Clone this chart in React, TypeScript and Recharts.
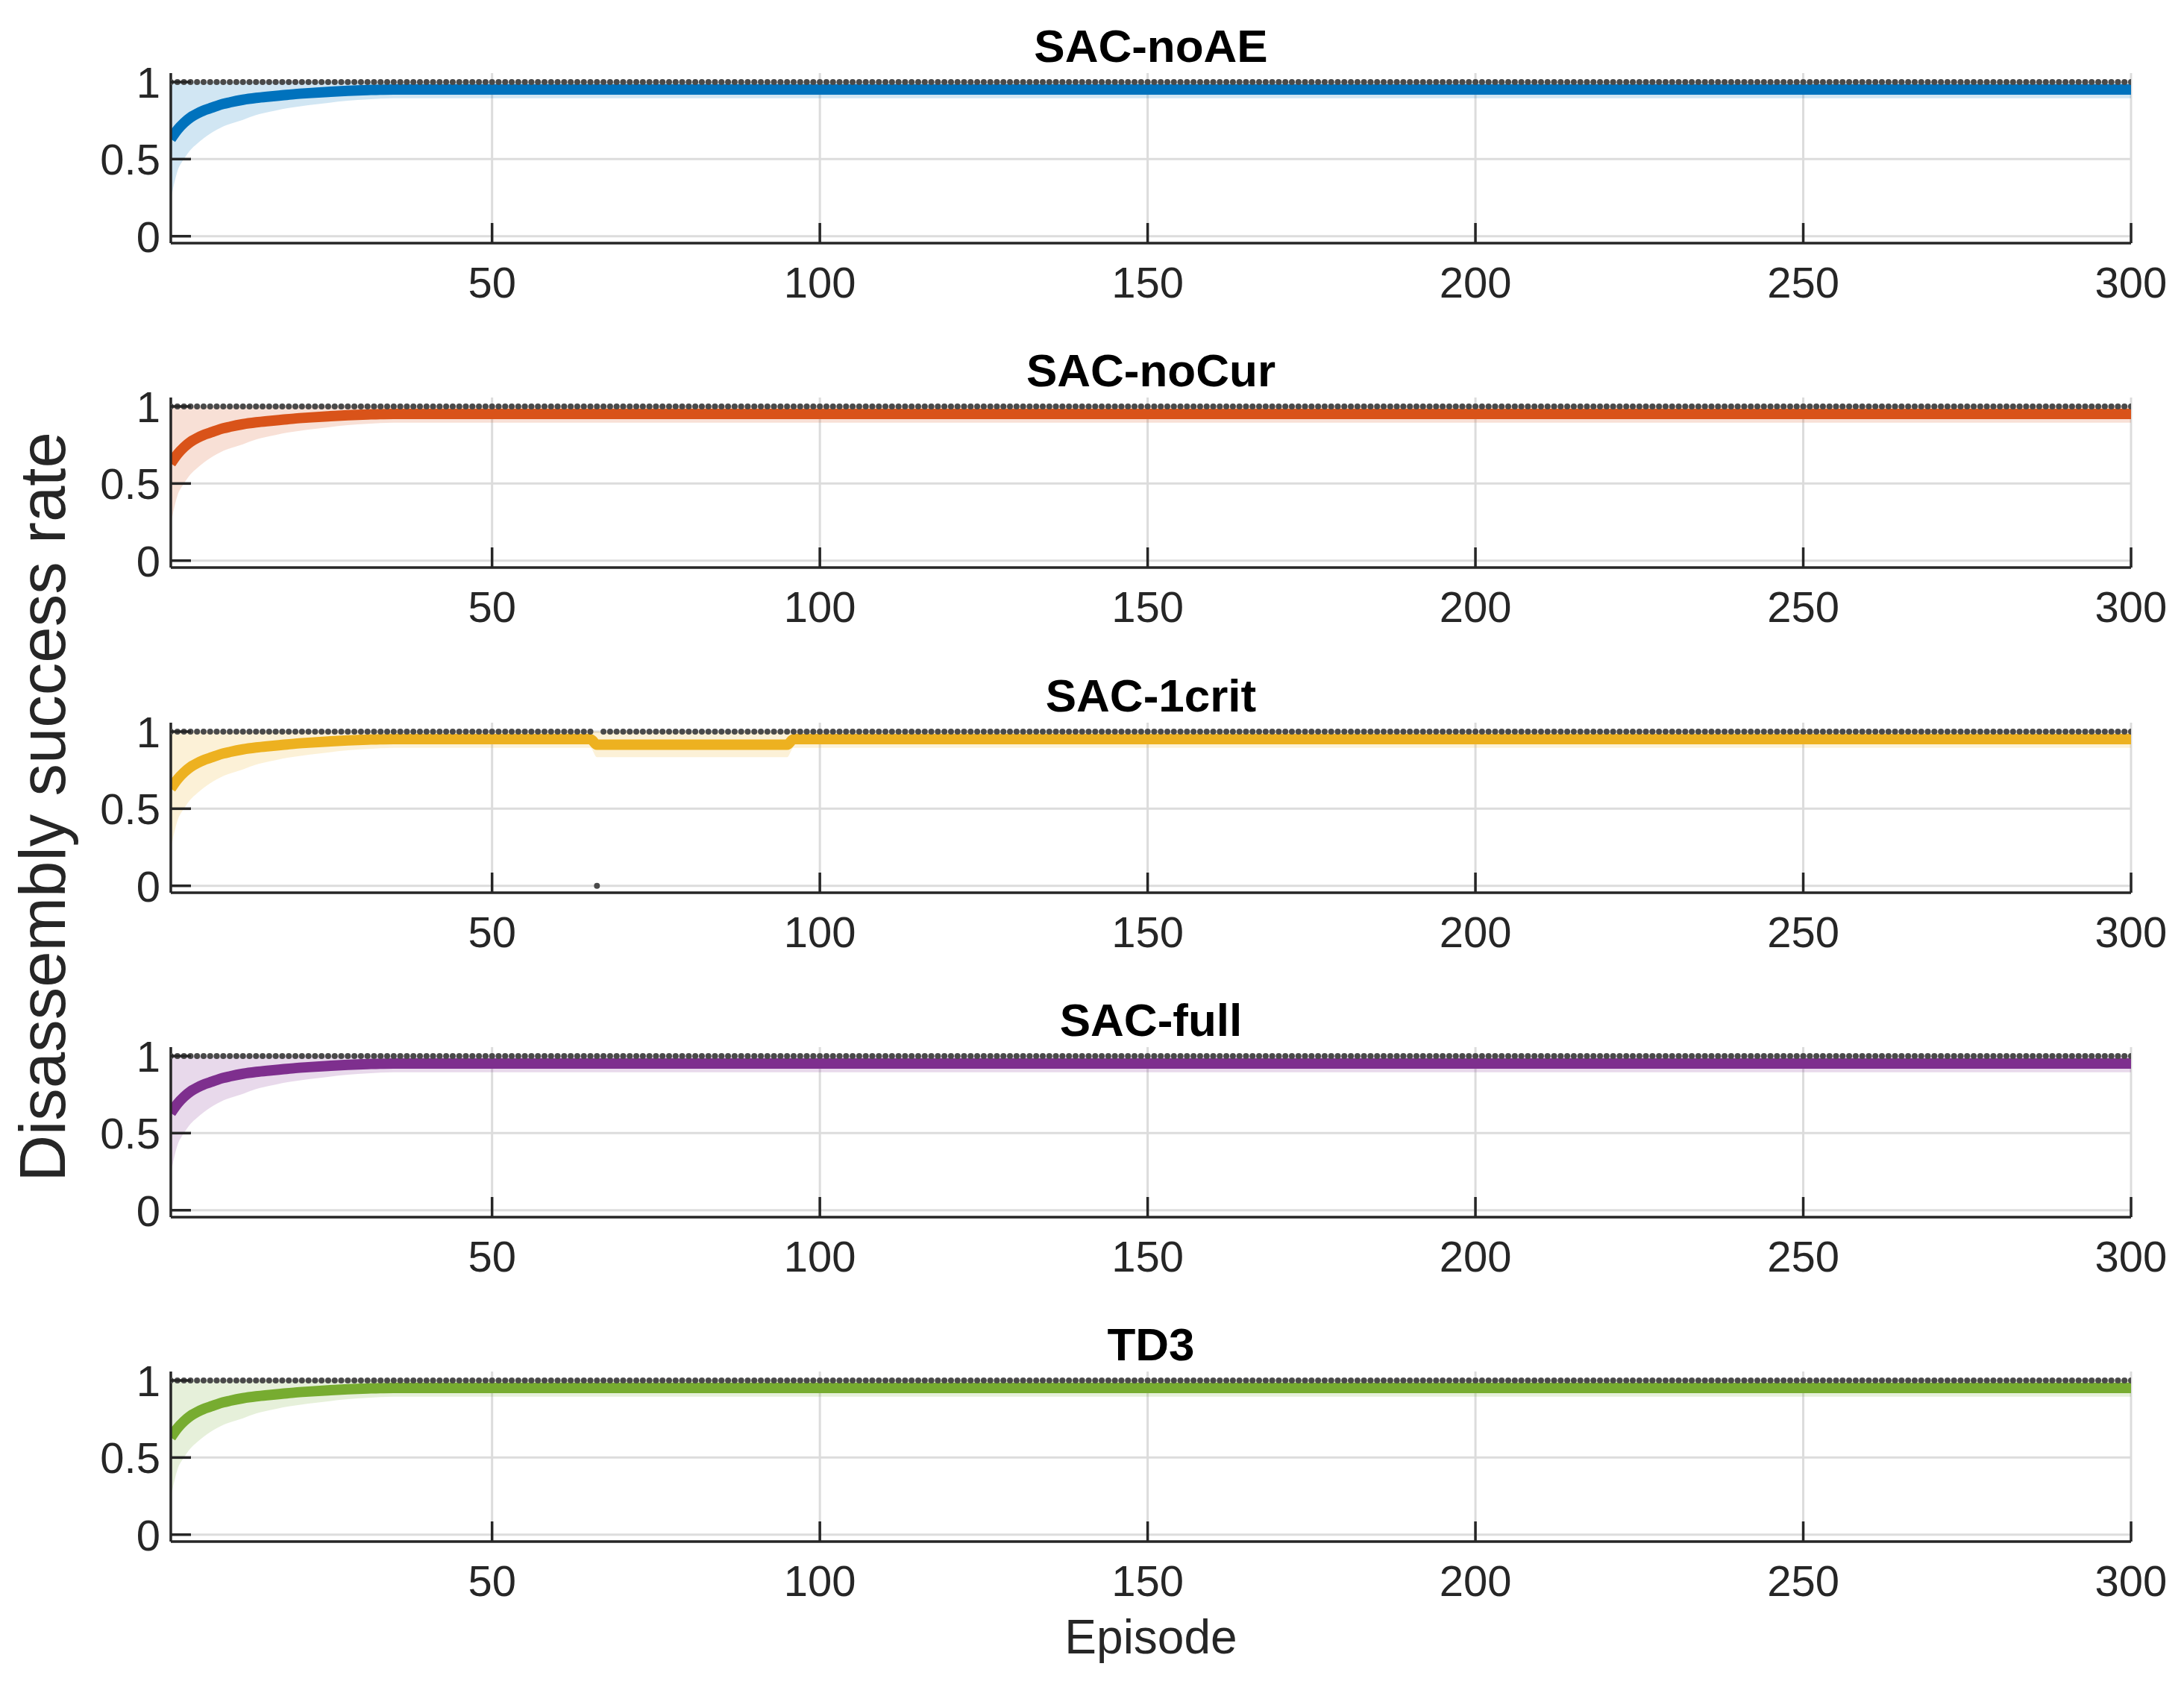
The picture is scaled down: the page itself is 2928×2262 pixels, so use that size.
import React from "react";
import {
  ComposedChart,
  Line,
  Area,
  Scatter,
  XAxis,
  YAxis,
  CartesianGrid,
} from "recharts";

// ---- data ----
const TITLES = ["SAC-noAE", "SAC-noCur", "SAC-1crit", "SAC-full", "TD3"];
const COLORS = ["#0072BD", "#D95319", "#EDB120", "#7E2F8E", "#77AC30"];

const EPISODE_TICKS = [50, 100, 150, 200, 250, 300];
const RATE_TICKS = [0, 0.5, 1];
const LAST_EPISODE = 300;

// learning curve (mean and lower edge of the shaded band) for the first episodes
const RISE_EPISODES = [1, 2, 3, 4, 5, 6, 7, 8, 9, 10, 12, 14, 16, 18, 20, 22, 25, 28, 31, 35];
const RISE_MEAN = [0.63, 0.69, 0.735, 0.77, 0.795, 0.815, 0.83, 0.845, 0.858, 0.868, 0.885, 0.897, 0.906, 0.914, 0.922, 0.928, 0.936, 0.943, 0.948, 0.952];
const RISE_LOW = [0.24, 0.42, 0.5, 0.56, 0.6, 0.635, 0.665, 0.69, 0.712, 0.728, 0.755, 0.786, 0.806, 0.825, 0.838, 0.85, 0.865, 0.879, 0.888, 0.895];
const BAND_HIGH = 1.0;

const PLATEAU_MEAN = 0.952;
const PLATEAU_LOW = 0.895;

// SAC-1crit: one failed episode and a dip of the running mean
const FAILED_EPISODES = [[], [], [66], [], []];
const DIPS = [null, null, { start: 66, end: 95, mean: 0.915, low: 0.834 }, null, null];

// ---- layout (px, full size) ----
const W = 2928;
const H = 2262;
const PANEL_STEP = 435.25;
const PLOT_TOP = 98;
const PLOT_H = 228;
const PLOT_LEFT = 229;
const PLOT_RIGHT = 2857;
const AXIS_Y = PLOT_TOP + PLOT_H;
const TICK_LEN = 27;
const INK = "#262626";
const FONT = '"Liberation Sans", Arial, Helvetica, sans-serif';

function buildRows(dip) {
  const rows = RISE_EPISODES.map((ep, i) => ({
    ep,
    mean: RISE_MEAN[i],
    band: [RISE_LOW[i], BAND_HIGH],
  }));
  if (dip) {
    rows.push({ ep: dip.start - 1, mean: PLATEAU_MEAN, band: [PLATEAU_LOW, BAND_HIGH] });
    rows.push({ ep: dip.start, mean: dip.mean, band: [dip.low, BAND_HIGH] });
    rows.push({ ep: dip.end, mean: dip.mean, band: [dip.low, BAND_HIGH] });
    rows.push({ ep: dip.end + 1, mean: PLATEAU_MEAN, band: [PLATEAU_LOW, BAND_HIGH] });
  }
  rows.push({ ep: LAST_EPISODE, mean: PLATEAU_MEAN, band: [PLATEAU_LOW, BAND_HIGH] });
  return rows;
}

function buildDots(failed) {
  return Array.from({ length: LAST_EPISODE }, (_, i) => {
    const ep = i + 1;
    return { ep, hit: failed.includes(ep) ? 0 : 1 };
  });
}

const XTick = (props) => {
  const { x, payload } = props;
  return (
    <g>
      <line x1={x} x2={x} y1={AXIS_Y} y2={AXIS_Y - TICK_LEN} stroke={INK} strokeWidth={3.5} />
      <text x={x} y={AXIS_Y + 73} textAnchor="middle" fontSize={58} fill={INK} fontFamily={FONT}>
        {payload.value}
      </text>
    </g>
  );
};

const YTick = (props) => {
  const { y, payload } = props;
  return (
    <g>
      <line x1={PLOT_LEFT} x2={PLOT_LEFT + TICK_LEN} y1={y} y2={y} stroke={INK} strokeWidth={3.5} />
      <text x={215} y={y} dy="0.36em" textAnchor="end" fontSize={58} fill={INK} fontFamily={FONT}>
        {payload.value}
      </text>
    </g>
  );
};

const Dot = (props) => <circle cx={props.cx} cy={props.cy} r={4} fill="#4a4a4a" />;

function Panel({ index }) {
  const last = index === TITLES.length - 1;
  const height = last ? H - Math.round(index * PANEL_STEP) : Math.round(PANEL_STEP);
  const color = COLORS[index];
  const rows = buildRows(DIPS[index]);
  const dots = buildDots(FAILED_EPISODES[index]);
  return (
    <div style={{ position: "absolute", left: 0, top: index * PANEL_STEP }}>
      <ComposedChart
        width={W}
        height={height}
        data={rows}
        margin={{ top: PLOT_TOP, right: W - PLOT_RIGHT, bottom: 0, left: 0 }}
      >
        <CartesianGrid
          stroke="#dcdcdc"
          strokeWidth={3}
          horizontalValues={RATE_TICKS}
          verticalValues={EPISODE_TICKS}
        />
        <XAxis
          dataKey="ep"
          type="number"
          domain={[1, LAST_EPISODE]}
          ticks={EPISODE_TICKS}
          allowDataOverflow
          height={height - PLOT_TOP - PLOT_H}
          axisLine={{ stroke: INK, strokeWidth: 3.5 }}
          tickLine={false}
          tick={<XTick />}
          interval={0}
        />
        <YAxis
          type="number"
          domain={[-0.045, 1.058]}
          ticks={RATE_TICKS}
          allowDataOverflow
          width={PLOT_LEFT}
          axisLine={{ stroke: INK, strokeWidth: 3.5 }}
          tickLine={false}
          tick={<YTick />}
          interval={0}
        />
        <Area
          type="monotone"
          dataKey="band"
          stroke="none"
          fill={color}
          fillOpacity={0.18}
          isAnimationActive={false}
        />
        <Line
          type="monotone"
          dataKey="mean"
          stroke={color}
          strokeWidth={14}
          dot={false}
          isAnimationActive={false}
        />
        <Scatter data={dots} dataKey="hit" shape={<Dot />} isAnimationActive={false} />
      </ComposedChart>
    </div>
  );
}

export default function App() {
  const centerX = (PLOT_LEFT + PLOT_RIGHT) / 2;
  return (
    <div style={{ position: "relative", width: W, height: H, background: "#fff", fontFamily: FONT }}>
      <style>{"body{margin:0}"}</style>
      {TITLES.map((t, i) => (
        <Panel key={t} index={i} />
      ))}
      <svg
        width={W}
        height={H}
        style={{ position: "absolute", left: 0, top: 0, pointerEvents: "none" }}
      >
        {TITLES.map((t, i) => (
          <text
            key={t}
            x={centerX}
            y={83 + i * PANEL_STEP}
            textAnchor="middle"
            fontSize={62}
            fontWeight="bold"
            fill="#000"
            fontFamily={FONT}
          >
            {t}
          </text>
        ))}
        <text
          x={centerX}
          y={2217}
          textAnchor="middle"
          fontSize={64}
          fill={INK}
          fontFamily={FONT}
        >
          Episode
        </text>
        <text
          transform="translate(87,1082) rotate(-90)"
          textAnchor="middle"
          fontSize={87}
          fill={INK}
          fontFamily={FONT}
        >
          Disassembly success rate
        </text>
      </svg>
    </div>
  );
}
